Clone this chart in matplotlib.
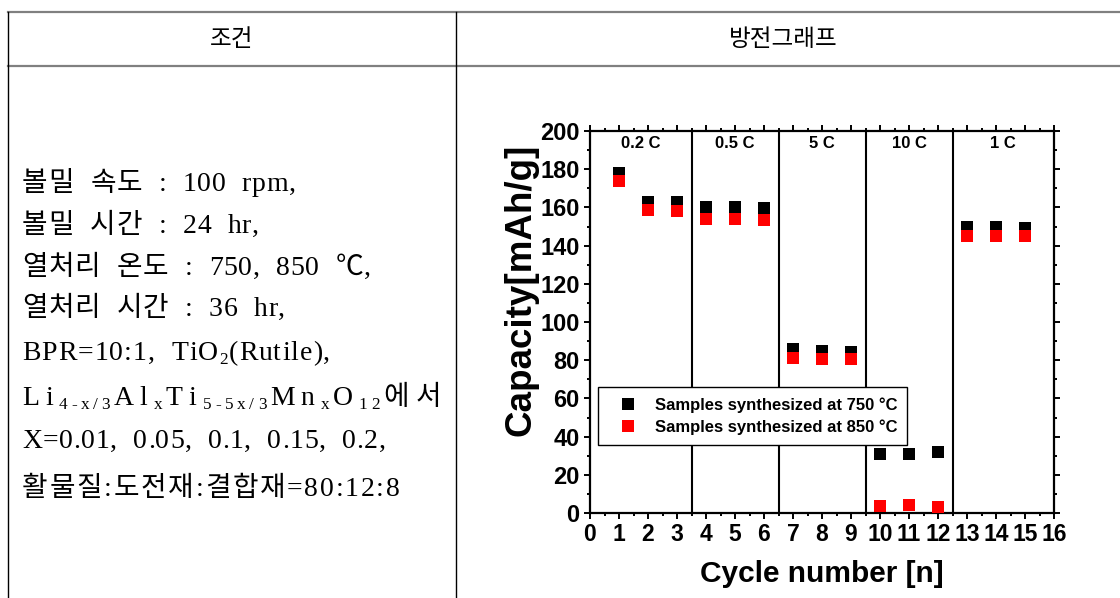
import matplotlib
matplotlib.use("Agg")
import matplotlib.pyplot as plt
from matplotlib.lines import Line2D
from matplotlib.font_manager import FontProperties, fontManager
from matplotlib.ticker import MultipleLocator

# ---------------- data ----------------
cycles = [1, 2, 3, 4, 5, 6, 7, 8, 9, 10, 11, 12, 13, 14, 15]
cap_750 = [178, 163, 163, 160, 160, 159.5, 86, 85, 84.5, 31, 31, 32, 150, 149.5, 149]
cap_850 = [174, 158.5, 158, 154, 154, 153.5, 81, 80.5, 80.5, 3.5, 4, 3, 145, 145, 145]
rate_labels = ["0.2 C", "0.5 C", "5 C", "10 C", "1 C"]
rate_bounds = [0, 3.5, 6.5, 9.5, 12.5, 16]
series_labels = ["Samples synthesized at 750 \u00b0C", "Samples synthesized at 850 \u00b0C"]
x_ticks = list(range(0, 17))
y_ticks = list(range(0, 201, 20))
header_left = "조건"
header_right = "방전그래프"
xlabel = "Cycle number [n]"
ylabel = "Capacity[mAh/g]"

# condition lines: list of runs (text, kind) ; kind 'n' normal, 's' subscript
cond_lines = [
    [("볼밀  속도  :  100  rpm,", "n")],
    [("볼밀  시간  :  24  hr,", "n")],
    [("열처리  온도  :  750,  850  ℃,", "n")],
    [("열처리  시간  :  36  hr,", "n")],
    [("BPR=10:1,  TiO", "n"), ("2", "s"), ("(Rutile),", "n")],
    [("Li", "n"), ("4-x/3", "s"), ("Al", "n"), ("x", "s"), ("Ti", "n"), ("5-5x/3", "s"),
     ("Mn", "n"), ("x", "s"), ("O", "n"), ("12", "s"), ("에서", "n")],
    [("X=0.01,  0.05,  0.1,  0.15,  0.2,", "n")],
    [("활물질:도전재:결합재=80:12:8", "n")],
]

# ---------------- figure ----------------
W, H = 1120, 598
fig = plt.figure(figsize=(W / 100, H / 100), dpi=100)
fig.patch.set_facecolor("white")

names = {f.name for f in fontManager.ttflist}
NARROW = "Liberation Sans Narrow" if "Liberation Sans Narrow" in names else "Liberation Sans"
KFAM = ["Noto Sans CJK KR", "DejaVu Sans"]
SERIF = ["Liberation Serif", "Noto Sans CJK KR", "DejaVu Sans"]


def fx(px):
    return px / W


def fy(py):
    return 1 - py / H


# table lines
grey = "#808080"
for yy in (12, 66):
    fig.add_artist(Line2D([fx(8), 1.0], [fy(yy), fy(yy)], color=grey, lw=1.6,
                          transform=fig.transFigure))
for xx in (8, 456):
    fig.add_artist(Line2D([fx(xx), fx(xx)], [fy(12), 0.0], color="black", lw=1.0,
                          transform=fig.transFigure))

fig.text(fx(232), fy(40), header_left, family=KFAM, fontsize=17, ha="center", va="center")
fig.text(fx(783), fy(40), header_right, family=KFAM, fontsize=17, ha="center", va="center")

# condition text, placed character by character
renderer = fig.canvas.get_renderer()
base_size = 20
line_base = [191, 233, 275, 316, 360, 405, 448, 496]
tracking = [0.8, 0.8, 0.8, 0.8, 1.0, 6.0, 0.7, 1.8]


def char_width(ch, prop):
    w1, _, _ = renderer.get_text_width_height_descent("|" + ch + "|", prop, ismath=False)
    w0, _, _ = renderer.get_text_width_height_descent("||", prop, ismath=False)
    return w1 - w0


for runs, yb, trk in zip(cond_lines, line_base, tracking):
    x = 22.0
    for s, kind in runs:
        fs = base_size if kind == "n" else base_size * 0.62
        dy = 0 if kind == "n" else 4
        for ch in s:
            is_k = "\uac00" <= ch <= "\ud7a3" or ch == "℃"
            fam = KFAM if is_k else SERIF
            prop = FontProperties(family=fam, size=fs)
            if ch != " ":
                fig.text(fx(x), fy(yb + dy), ch, fontproperties=prop, ha="left", va="baseline")
            x += char_width(ch, prop) + trk * (fs / base_size)

# ---------------- chart ----------------
ax = fig.add_axes([fx(590), fy(513), fx(1054) - fx(590), fy(131) - fy(513)])
for b in rate_bounds[1:-1]:
    ax.axvline(b, color="black", lw=1.5, zorder=1)

ax.plot(cycles, cap_750, "s", color="black", ms=9, mew=0, label=series_labels[0], zorder=3)
ax.plot(cycles, cap_850, "s", color="#ff0000", ms=9, mew=0, label=series_labels[1], zorder=4)

for lab, a, b in zip(rate_labels, rate_bounds[:-1], rate_bounds[1:]):
    ax.text((a + b) / 2, 193.5, lab, ha="center", va="center", family=NARROW,
            fontweight="bold", fontsize=12)

ax.set_xlim(0, 16)
ax.set_ylim(0, 200)
ax.set_xticks(x_ticks)
ax.set_yticks(y_ticks)
ax.xaxis.set_minor_locator(MultipleLocator(0.5))
ax.yaxis.set_minor_locator(MultipleLocator(10))
for sp in ax.spines.values():
    sp.set_linewidth(1.6)
ax.tick_params(which="both", direction="out", top=True, right=True,
               labeltop=False, labelright=False, width=1.4)
ax.tick_params(which="major", length=4.5)
ax.tick_params(which="minor", length=2.5)
ax.tick_params(axis="x", pad=3)
ax.tick_params(axis="y", pad=3)
for lab in ax.get_yticklabels():
    lab.set_family(NARROW)
    lab.set_fontweight("bold")
    lab.set_fontsize(17)
for lab in ax.get_xticklabels():
    lab.set_family(NARROW)
    lab.set_fontweight("bold")
    lab.set_fontsize(16.5)

ax.set_xlabel(xlabel, family=NARROW, fontweight="bold", fontsize=21.5, va="center")
ax.xaxis.set_label_coords(0.5, -0.16)
ax.set_ylabel(ylabel, family="Liberation Sans", fontweight="bold", fontsize=26.5,
              va="center", ha="center")
ax.yaxis.set_label_coords(-0.149, 0.585)

leg = ax.legend(loc="lower left", bbox_to_anchor=(0.017, 0.178), frameon=True,
                fancybox=False, edgecolor="black", framealpha=1,
                prop=FontProperties(family=NARROW, weight="bold", size=12),
                handlelength=2.4, handletextpad=0.4, labelspacing=0.4,
                borderpad=0.6, borderaxespad=0, numpoints=1)
leg.get_frame().set_linewidth(1.0)

fig.savefig("out.png", dpi=100, facecolor="white")
